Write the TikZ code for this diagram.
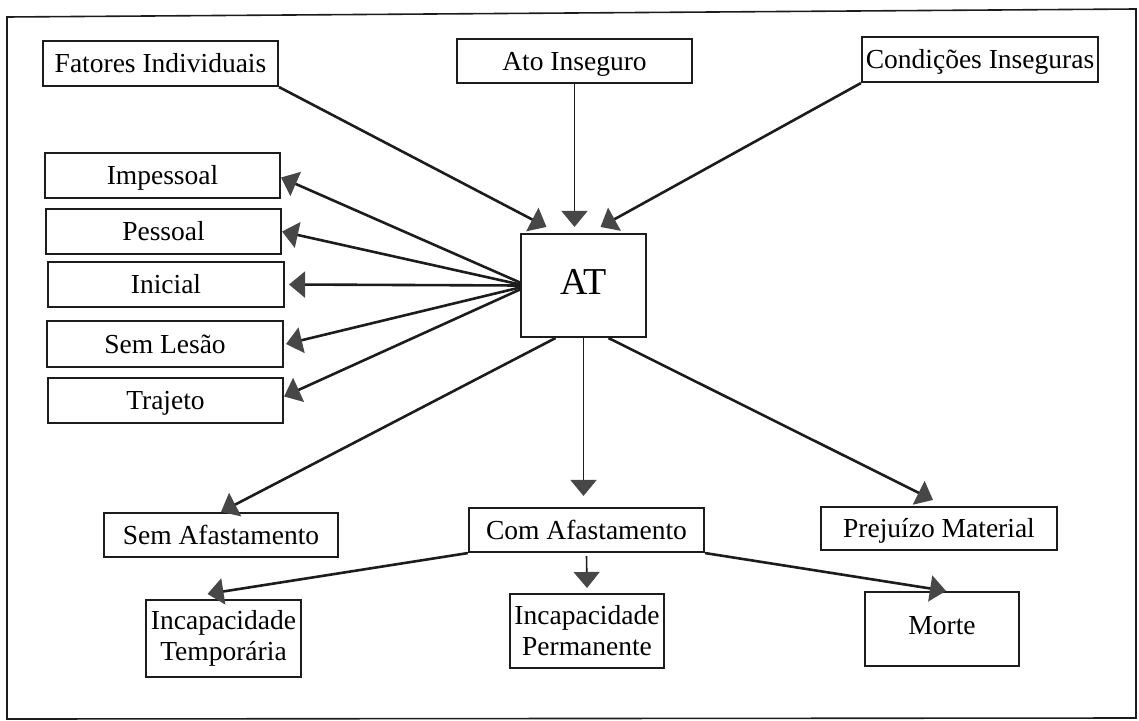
\documentclass[tikz,border=0pt]{standalone}
\usepackage{fontspec}
\setmainfont{Liberation Serif}
\usetikzlibrary{arrows.meta}
\definecolor{tipgray}{HTML}{474747}
\definecolor{inkline}{HTML}{1C1C1C}
\tikzset{
  box/.style={draw=inkline, line width=2.1pt, minimum height=45pt, inner sep=0pt,
    text height=18pt, text depth=0pt, font=\fontsize{27.5}{31}\selectfont},
  tallbox/.style={box, text height=, text depth=, align=center},
  link/.style={draw=inkline, line width=2.6pt,
    -{Triangle[color=tipgray, length=16pt, width=26pt]}},
  thinlink/.style={link, line width=1.6pt}
}
\begin{document}
\begin{tikzpicture}[x=1pt,y=-1pt]
  \useasboundingbox (0,0) rectangle (1139,720);
  \draw[line width=1.6pt, inkline] (7,17) -- (1136,9) -- (1136,718) -- (7,719) -- cycle;
  % causes
  \node[box, minimum width=235pt] (fat) at (160.5,63.5) {Fatores Individuais};
  \node[box, minimum width=235pt, minimum height=44pt] (ato) at (574.5,61) {Ato Inseguro};
  \node[box, minimum width=236pt] (cond) at (980,59.5) {Condições Inseguras};
  % accident
  \node[box, minimum width=125pt, minimum height=103pt, text height=25pt, text depth=8pt,
    font=\fontsize{38}{40}\selectfont] (at) at (583.5,285.5) {AT};
  % kinds
  \node[box, minimum width=235pt] (imp) at (162.5,175.5) {Impessoal};
  \node[box, minimum width=235pt] (pes) at (163.5,231.5) {Pessoal};
  \node[box, minimum width=236pt] (ini) at (166,284.5) {Inicial};
  \node[box, minimum width=236pt, minimum height=46pt] (sem) at (165,344) {Sem Lesão};
  \node[box, minimum width=235pt] (tra) at (165.5,400.5) {Trajeto};
  % consequences
  \node[box, minimum width=234pt, minimum height=44pt] (semaf) at (221,535) {Sem Afastamento};
  \node[box, minimum width=235pt, minimum height=44pt] (com) at (586.5,530) {Com Afastamento};
  \node[box, minimum width=236pt, minimum height=43pt] (prej) at (939,528.5) {Prejuízo Material};
  \node[tallbox, minimum width=155pt, minimum height=77pt] (inctemp) at (223.5,638.5) {Incapacidade\\Temporária};
  \node[tallbox, minimum width=154pt, minimum height=74pt] (incperm) at (587,631) {Incapacidade\\Permanente};
  \node[box, minimum width=154pt, minimum height=74pt, text depth=8pt] (morte) at (942,629) {Morte};
  \begin{scope}[link]
    \draw (fat.south east) to ([xshift=-37pt,yshift=6pt]at.north);
    \draw[thinlink] (ato.south) to ([yshift=6pt]ato.south |- at.north);
    \draw (cond.south west) to ([xshift=17pt,yshift=6pt]at.north);
    \draw ([yshift=3pt]at.west) to ([yshift=-2pt]imp.east);
    \draw ([yshift=1pt]at.west) to (pes.east);
    \draw (at.west) to ([xshift=4pt]ini.east);
    \draw ([yshift=-2pt]at.west) to ([xshift=2pt]sem.east);
    \draw ([yshift=-4pt]at.west) to ([yshift=4pt]tra.east);
    \draw ([xshift=-28pt]at.south) to (semaf.north);
    \draw[thinlink] (at.south) to ([yshift=11pt]at.south |- com.north);
    \draw ([xshift=25pt]at.south) to ([xshift=-6pt,yshift=6pt]prej.north);
    \draw (com.south west) to ([xshift=-16pt,yshift=5pt]inctemp.north);
    \draw[thinlink] ([yshift=-3pt]com.south) to ([yshift=5pt]incperm.north);
    \draw (com.south east) to ([xshift=4pt]morte.north);
  \end{scope}
\end{tikzpicture}
\end{document}
